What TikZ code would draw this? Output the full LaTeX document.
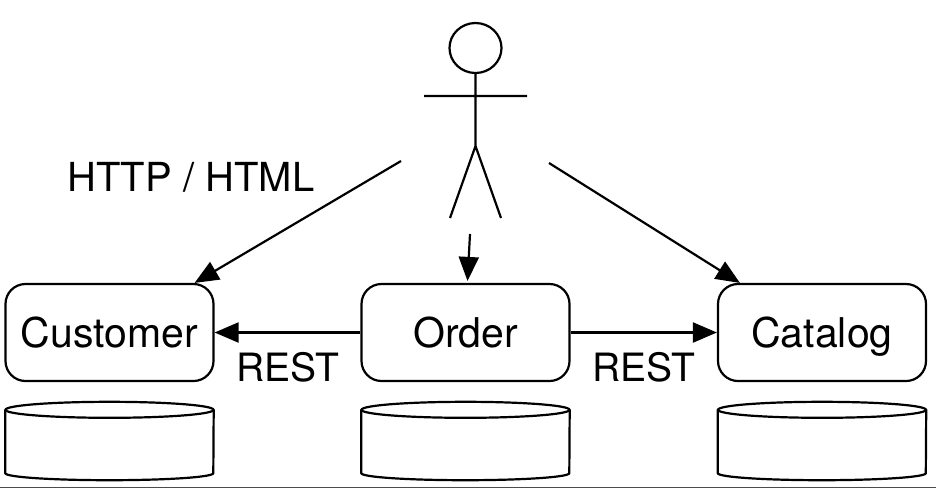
\documentclass[tikz,border=0pt]{standalone}
\usepackage{fontspec}
\setmainfont{TeX Gyre Heros}
\usetikzlibrary{arrows.meta,positioning,shapes.geometric}
\tikzset{
  service/.style={draw,rounded corners=20pt,line width=2.2pt,minimum width=208pt,minimum height=97pt,inner sep=0pt,text height=33pt,text depth=4pt,font=\fontsize{41}{46}\selectfont},
  store/.style={minimum width=208pt,minimum height=78pt,inner sep=0pt},
  label/.style={inner sep=0pt,text height=29pt,text depth=0pt},
  link/.style={-{Triangle[length=24pt,width=20pt]},line width=2.2pt}
}
\begin{document}
\begin{tikzpicture}[x=1pt,y=-1pt]
  \useasboundingbox (0,0) rectangle (936,488);
  \node[service] (customer) at (109.5,332.5) {Customer};
  \node[service] (order)    at (465.5,332.5) {Order};
  \node[service] (catalog)  at (822,332.5)   {Catalog};
  \node[store]   (db1)      at (109.5,441)   {};
  \node[store]   (db2)      at (465.5,441)   {};
  \node[store]   (db3)      at (822,441)     {};

  % cylinders
  \foreach \db in {db1,db2,db3}{
    \draw[line width=2.2pt] ([yshift=-8pt]\db.north) ellipse [x radius=104pt,y radius=8pt];
    \draw[line width=2.2pt] ([yshift=-8pt]\db.north west) -- ([yshift=7pt]\db.south west)
      arc [start angle=180,end angle=360,x radius=104pt,y radius=7pt] -- ([yshift=-8pt]\db.north east);
  }

  % stick figure
  \node[draw,ellipse,line width=2.2pt,minimum width=52pt,minimum height=50pt,inner sep=0pt] (head) at (475.5,48) {};
  \coordinate (hip) at (475.5,146);
  \coordinate (armL) at (424,96);
  \coordinate (armR) at (527,96);
  \coordinate (footL) at (450,218);
  \coordinate (footR) at (501,218);
  \draw[line width=2.2pt] (head.south) -- (hip) (armL) -- (armR) (footL) -- (hip) -- (footR);

  \coordinate (user1) at (401,161);
  \coordinate (user2) at (470,234);
  \coordinate (user3) at (549,163);
  \draw[link] (user1) -- ([xshift=-20pt]customer.north east);
  \draw[link] (user2) -- ([xshift=2pt,yshift=2pt]order.north);
  \draw[link] (user3) -- ([xshift=23pt]catalog.north west);
  \draw[link] (order) -- (customer);
  \draw[link] (order) -- (catalog);

  \node[label,font=\fontsize{40}{46}\selectfont] (http)  at (191,177) {HTTP / HTML};
  \node[label,font=\fontsize{39}{44}\selectfont] (rest1) at (288,367) {REST};
  \node[label,font=\fontsize{39}{44}\selectfont] (rest2) at (644,367) {REST};

  \coordinate (edgeL) at (0,487.5);
  \coordinate (edgeR) at (936,487.5);
  \draw[line width=1.2pt,black!70] (edgeL) -- (edgeR);
\end{tikzpicture}
\end{document}
